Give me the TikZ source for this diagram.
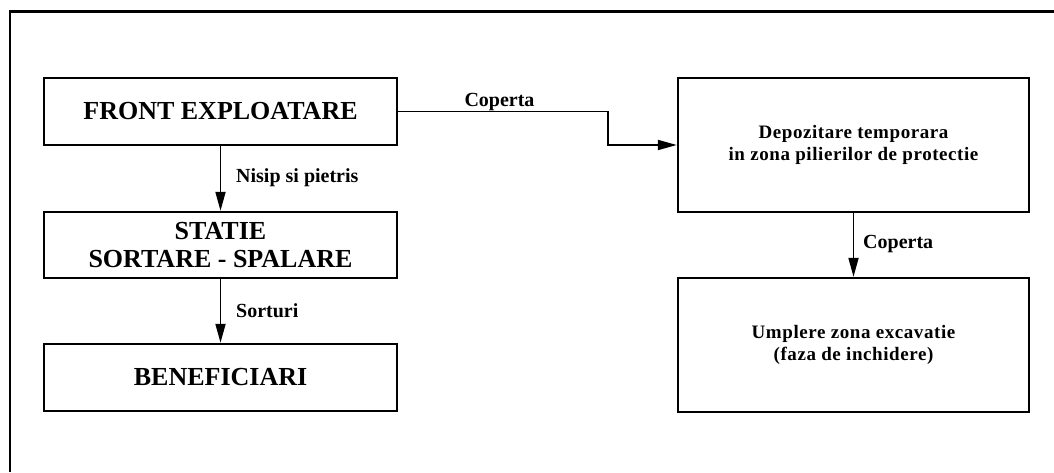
\documentclass[tikz,border=0pt]{standalone}
\usepackage{fontspec}
\setmainfont{Liberation Serif}
\newfontfamily\spacedfont[LetterSpace=3]{Liberation Serif}
\usetikzlibrary{arrows.meta}
\begin{document}
\begin{tikzpicture}[x=1pt,y=-1pt,
  box/.style={draw, line width=2.4pt, inner sep=0pt, align=center},
  leftbox/.style={box, minimum width=353pt, minimum height=67pt,
     font=\fontsize{26}{28}\selectfont\bfseries},
  rightbox/.style={box, minimum width=351pt, minimum height=134pt,
     font=\spacedfont\fontsize{19}{22.5}\selectfont\bfseries},
  flow/.style={line width=1.8pt, -{Triangle[length=19pt,width=10pt]}},
  lbl/.style={inner sep=0pt, font=\fontsize{20}{22}\selectfont\bfseries}]
\useasboundingbox (0,0) rectangle (1054,472);
% outer frame
\draw[line width=3pt] (9,11) -- (1054,11);
\draw[line width=2pt] (10,10) -- (10,472);
% boxes
\node[leftbox] (front) at (220.5,111.5) {FRONT EXPLOATARE};
\node[leftbox, minimum height=66pt] (statie) at (220.5,245) {STATIE\\SORTARE - SPALARE};
\node[leftbox] (benef) at (220.5,377.5) {BENEFICIARI};
\node[rightbox] (depo) at (853.5,145) {Depozitare temporara\\in zona pilierilor de protectie};
\node[rightbox] (umpl) at (853.5,345) {Umplere zona excavatie\\(faza de inchidere)};
% connectors
\coordinate (elbow) at (608,0);
\draw[flow] (front.east) -- (front.east -| elbow) |- (depo.west);
\draw[flow] (front.south) -- (statie.north);
\draw[flow] (statie.south) -- (benef.north);
\draw[flow] (depo.south) -- (umpl.north);
% labels
\node[lbl, anchor=base] (lcop1) at (499.5,106) {Coperta};
\node[lbl, anchor=base west] (lnis) at (236,182) {Nisip si pietris};
\node[lbl, anchor=base west] (lsor) at (236,317) {Sorturi};
\node[lbl, anchor=base west] (lcop2) at (863,248) {Coperta};
\end{tikzpicture}
\end{document}
